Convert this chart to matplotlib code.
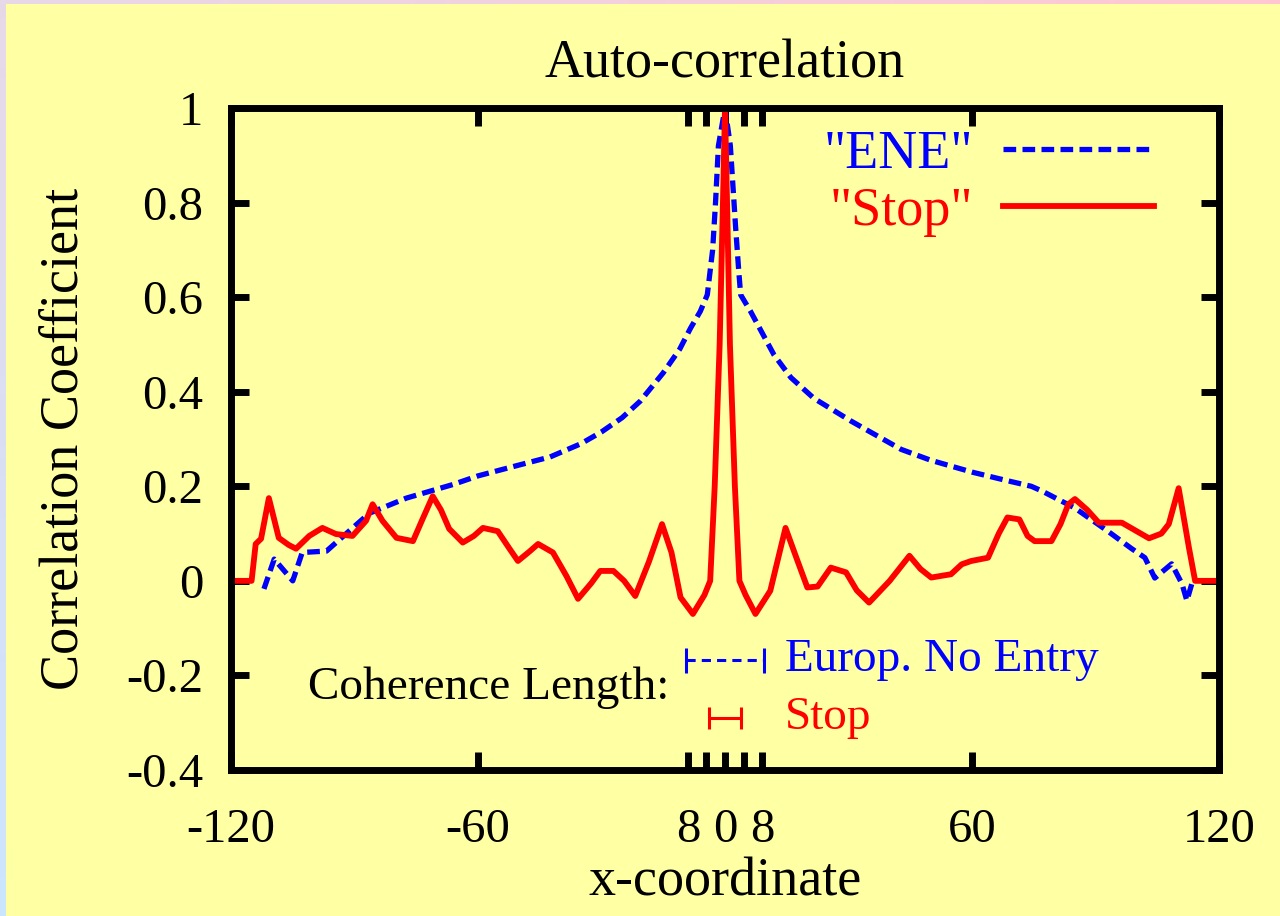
import numpy as np
import matplotlib.pyplot as plt

plt.rcParams['font.family'] = ['Liberation Serif', 'DejaVu Serif']

# auto-correlation of the "ENE" sign map
ene_x = [-112, -109.5, -105, -102.7, -96.8, -92, -86.4, -77.4, -66, -60, -50,
         -42.5, -35, -30, -25, -20.6, -15, -11, -8.4, -6, -4.3, -3, -2.3, -1.6,
         0, 1.3, 2.6, 3.3, 3.8, 6.2, 11.9, 16, 21.6, 30.6, 42.8, 50, 60, 68,
         74.4, 77, 85, 93, 98.8, 102, 104.4, 108.5, 111, 112.2, 113.4]
ene_y = [-0.017, 0.046, 0.0, 0.06, 0.063, 0.10, 0.143, 0.175, 0.204, 0.222, 0.245,
         0.262, 0.29, 0.315, 0.345, 0.38, 0.44, 0.49, 0.534, 0.57, 0.605, 0.70, 0.80, 0.92,
         1.0, 0.92, 0.745, 0.66, 0.605, 0.57, 0.478, 0.43, 0.386, 0.338, 0.278, 0.255, 0.23, 0.213,
         0.20, 0.19, 0.154, 0.105, 0.068, 0.049, 0.006, 0.036, -0.006, -0.042, -0.006]

# auto-correlation of the "Stop" sign map
stop_x = [-120, -115, -114, -112.7, -110.8, -108.4, -106, -104.2, -101, -97.8, -94.5,
          -90.5, -87.2, -85.6, -83.2, -79.8, -75.8, -73.5, -71, -69, -67, -63.7, -61,
          -58.8, -55.2, -52.5, -50.3, -47.5, -45.4, -41.8, -38.5, -35.7, -32.5, -30.3,
          -27.1, -24.5, -21.8, -18.5, -15.3, -13, -10.8, -7.8, -5,
          -3.6, -2.5, -1.3, -0.5, 0, 0.5, 1.2, 2.4, 3.5, 5, 7.4, 11, 14.7, 17.5,
          20, 22.5, 25.7, 29.4, 32, 35.0, 40, 44.8, 47.5, 50.1, 54.9, 57.5, 59.8,
          63.9, 66.5, 68.6, 71.5, 73.5, 75.2, 79.3, 81.5, 83.4, 85, 88,
          90.8, 96.4, 103, 106, 107.8, 110.2, 112.7, 114.2, 120]
stop_y = [0, 0, 0.078, 0.089, 0.175, 0.091, 0.076, 0.068, 0.095, 0.112, 0.099,
          0.095, 0.127, 0.162, 0.127, 0.091, 0.084, 0.13, 0.179, 0.15, 0.11, 0.081, 0.095,
          0.112, 0.105, 0.07, 0.042, 0.062, 0.078, 0.06, 0.01, -0.038, -0.005, 0.021,
          0.021, 0.0, -0.032, 0.04, 0.12, 0.06, -0.035, -0.07, -0.03,
          0.0, 0.2, 0.5, 0.8, 1.0, 0.8, 0.5, 0.2, 0.0, -0.03, -0.07, -0.021, 0.112, 0.045,
          -0.014, -0.012, 0.028, 0.018, -0.02, -0.046, 0.0, 0.053, 0.025, 0.007, 0.014, 0.035, 0.042,
          0.049, 0.1, 0.134, 0.13, 0.095, 0.084, 0.084, 0.12, 0.162, 0.173, 0.15,
          0.123, 0.123, 0.09, 0.1, 0.12, 0.196, 0.07, 0.0, 0.0]

# coherence lengths (half widths) and where they are marked
coh_ene = 9.5
coh_stop = 4.0
coh_ene_y = -0.167
coh_stop_y = -0.29

x_ticks = [-120, -60, -9, -4.5, 0, 4.5, 9, 60, 120]
x_tick_labels = ['-120', '-60', '8', '', '0', '', '8', '60', '120']
y_ticks = [-0.4, -0.2, 0, 0.2, 0.4, 0.6, 0.8, 1]
y_tick_labels = ['-0.4', '-0.2', '0', '0.2', '0.4', '0.6', '0.8', '1']

fundo = '#ffffa3'
azul = '#0000ff'
vermelho = '#ff0000'

fig = plt.figure(figsize=(12.8, 9.16), dpi=100, facecolor=fundo)

# thin gradient strips along the top and left edges
topo = fig.add_axes([0, 1 - 4 / 916, 1, 4 / 916])
grad = np.linspace(0, 1, 256)
c0 = np.array([0.91, 0.85, 0.91])
c1 = np.array([1.0, 0.78, 0.82])
topo.imshow((c0 + (c1 - c0) * grad[:, None])[None, :, :], aspect='auto')
topo.axis('off')
lado = fig.add_axes([0, 0, 6 / 1280, 1])
c2 = np.array([0.80, 0.90, 1.0])
lado.imshow((c0 + (c2 - c0) * grad[:, None])[:, None, :], aspect='auto')
lado.axis('off')

ax = fig.add_axes([231 / 1280, 1 - 770 / 916, 988 / 1280, 662 / 916])
ax.set_facecolor(fundo)

ax.plot(ene_x, ene_y, color=azul, lw=3.8, linestyle=(0, (2.4, 1.2)), label='"ENE"')
ax.plot(stop_x, stop_y, color=vermelho, lw=4.2, label='"Stop"')

# coherence length bars
ax.errorbar(0, coh_ene_y, xerr=coh_ene, color=azul, elinewidth=2.2, capsize=9,
            capthick=2.2, fmt='none')[2][0].set_linestyle((0, (3, 2)))
ax.errorbar(0, coh_stop_y, xerr=coh_stop, color=vermelho, elinewidth=2.2, capsize=8,
            capthick=2.2, fmt='none')
ax.text(-101.3, -0.226, 'Coherence Length:', fontsize=34, va='center', ha='left', color='black')
ax.text(14.6, coh_ene_y, 'Europ. No Entry', fontsize=34, va='center', ha='left', color=azul)
ax.text(14.6, coh_stop_y, 'Stop', fontsize=34, va='center', ha='left', color=vermelho)

ax.set_xlim(-120, 120)
ax.set_ylim(-0.4, 1)
ax.set_xticks(x_ticks)
ax.set_xticklabels(x_tick_labels)
ax.set_yticks(y_ticks)
ax.set_yticklabels(y_tick_labels)
ax.tick_params(direction='in', top=True, right=True, length=13, width=5,
               labelsize=35)
ax.tick_params(axis='x', pad=27)
ax.tick_params(axis='y', pad=20)
for s in ax.spines.values():
    s.set_linewidth(5)

ax.set_title('Auto-correlation', fontsize=39, pad=22)
ax.set_xlabel('x-coordinate', fontsize=39, labelpad=4)
ax.set_ylabel('Correlation Coefficient', fontsize=39, labelpad=26)

leg = ax.legend(loc='upper right', bbox_to_anchor=(0.9565, 1.0), frameon=False,
                markerfirst=False, handlelength=2.8, handletextpad=0.55, fontsize=39,
                labelcolor='linecolor', borderaxespad=0, labelspacing=0.12)

fig.savefig('out.png', dpi=100, facecolor=fundo)
